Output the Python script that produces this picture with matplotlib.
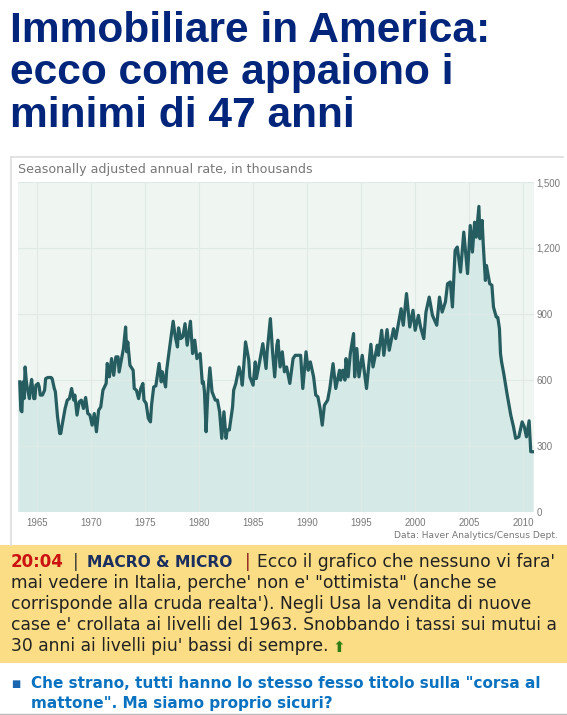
#!/usr/bin/env python3
# -*- coding: utf-8 -*-
import matplotlib
matplotlib.use("Agg")
import matplotlib.pyplot as plt
from matplotlib.patches import Rectangle
from matplotlib.lines import Line2D

# ===============================
# DATA
# ===============================
years_60s = [1963.4, 1963.5, 1963.6, 1963.7, 1963.8, 1963.9, 1964.0, 1964.1, 1964.3, 1964.4, 1964.5, 1964.7,
             1964.8, 1964.9, 1965.1, 1965.2, 1965.3, 1965.5, 1965.7, 1965.8, 1966.0, 1966.3, 1966.4, 1966.6,
             1966.7, 1966.9, 1967.1, 1967.2, 1967.3, 1967.6, 1967.8, 1968.0, 1968.2, 1968.4, 1968.5, 1968.7,
             1968.9, 1969.1, 1969.3, 1969.5, 1969.7, 1969.9]
sales_60s = [590, 461, 454, 590, 514, 658, 598, 560, 514, 568, 601, 514,
             514, 575, 583, 568, 530, 530, 552, 605, 610, 610, 605, 560,
             545, 431, 355, 355, 386, 469, 507, 514, 560, 507, 530, 439,
             499, 507, 469, 519, 446, 439]

years_70s = [1970.1, 1970.3, 1970.5, 1970.7, 1970.9, 1971.1, 1971.4, 1971.5, 1971.7, 1971.9, 1972.1, 1972.3,
             1972.5, 1972.6, 1972.8, 1973.0, 1973.2, 1973.3, 1973.4, 1973.6, 1973.9, 1974.0, 1974.2, 1974.4,
             1974.6, 1974.8, 1974.9, 1975.1, 1975.3, 1975.5, 1975.6, 1975.8, 1976.0, 1976.3, 1976.5, 1976.6,
             1976.9, 1977.0, 1977.2, 1977.6, 1977.8, 1978.0, 1978.1, 1978.3, 1978.5, 1978.7, 1978.9, 1979.2,
             1979.4, 1979.6, 1979.8]
sales_70s = [393, 446, 363, 461, 476, 552, 583, 674, 613, 696, 620, 704,
             704, 635, 689, 742, 840, 727, 772, 666, 643, 560, 552, 514,
             560, 583, 507, 492, 424, 408, 484, 567, 572, 674, 590, 636,
             567, 643, 719, 866, 795, 749, 836, 787, 795, 855, 757, 866,
             719, 780, 696]

years_80s = [1980.1, 1980.3, 1980.4, 1980.5, 1980.65, 1980.8, 1981.0, 1981.2, 1981.5, 1981.7, 1981.9, 1982.1,
             1982.3, 1982.5, 1982.6, 1982.8, 1983.1, 1983.2, 1983.4, 1983.7, 1983.9, 1984.0, 1984.3, 1984.6,
             1984.7, 1985.0, 1985.2, 1985.3, 1985.6, 1985.9, 1986.2, 1986.3, 1986.6, 1986.8, 1987.0, 1987.2,
             1987.3, 1987.5, 1987.7, 1987.9, 1988.1, 1988.4, 1988.7, 1988.9, 1989.2, 1989.4, 1989.6, 1989.9]
sales_80s = [719, 583, 590, 545, 363, 530, 654, 545, 507, 507, 454, 333,
             454, 333, 371, 371, 476, 552, 583, 658, 613, 575, 772, 689,
             613, 575, 681, 605, 681, 764, 651, 727, 878, 727, 613, 757,
             780, 658, 727, 636, 658, 583, 696, 711, 711, 711, 560, 727]

years_90s = [1990.1, 1990.3, 1990.6, 1990.8, 1991.0, 1991.2, 1991.4, 1991.6, 1991.9, 1992.1, 1992.4, 1992.65,
             1993.0, 1993.1, 1993.3, 1993.5, 1993.6, 1993.8, 1994.0, 1994.3, 1994.4, 1994.6, 1994.8, 1995.1,
             1995.5, 1995.9, 1996.1, 1996.5, 1996.6, 1996.9, 1997.1, 1997.4, 1997.6, 1998.0, 1998.2, 1998.5,
             1998.7, 1998.9, 1999.2, 1999.5, 1999.8]
sales_90s = [643, 681, 613, 530, 522, 469, 393, 484, 507, 560, 673, 560,
             643, 598, 643, 598, 696, 613, 719, 810, 613, 742, 613, 711,
             560, 761, 658, 757, 711, 825, 711, 828, 734, 832, 787, 870,
             923, 848, 992, 840, 916]

years_00s = [2000.0, 2000.3, 2000.5, 2000.8, 2001.0, 2001.3, 2001.6, 2002.0, 2002.25, 2002.5, 2002.8, 2003.0,
             2003.25, 2003.45, 2003.7, 2003.9, 2004.2, 2004.5, 2004.6, 2004.85, 2005.1, 2005.3, 2005.5, 2005.65,
             2005.9, 2006.0, 2006.2, 2006.3, 2006.5, 2006.6, 2006.9, 2007.1, 2007.25, 2007.5, 2007.65, 2007.8,
             2007.9, 2008.0, 2008.2, 2008.5, 2008.85, 2009.1, 2009.3, 2009.6, 2009.9, 2010.1, 2010.3, 2010.55,
             2010.7, 2010.9]
sales_00s = [825, 893, 840, 787, 908, 976, 893, 848, 976, 908, 954, 1037,
             1045, 931, 1189, 1204, 1090, 1272, 1219, 1083, 1302, 1181, 1317, 1249,
             1389, 1242, 1325, 1219, 1052, 1120, 1037, 1030, 931, 886, 883, 833,
             719, 681, 628, 537, 439, 386, 333, 340, 408, 386, 340, 413,
             272, 272]

x_ticks = [1965, 1970, 1975, 1980, 1985, 1990, 1995, 2000, 2005, 2010]
y_ticks = [0, 300, 600, 900, 1200, 1500]
y_labels = ["0", "300", "600", "900", "1,200", "1,500"]

title_lines = ["Immobiliare in America:", "ecco come appaiono i", "minimi di 47 anni"]
body_lines = ["mai vedere in Italia, perche' non e' \"ottimista\" (anche se",
              "corrisponde alla cruda realta'). Negli Usa la vendita di nuove",
              "case e' crollata ai livelli del 1963. Snobbando i tassi sui mutui a",
              "30 anni ai livelli piu' bassi di sempre."]
link_lines = ["Che strano, tutti hanno lo stesso fesso titolo sulla \"corsa al",
              "mattone\". Ma siamo proprio sicuri?"]

# ===============================
# FIGURE
# ===============================
W, H = 567, 715
LINE_COLOR = "#265d60"
FILL_COLOR = "#d5e9e6"
BG_COLOR = "#eff5f1"
GRID_COLOR = "#dfeae7"
TICK_COLOR = "#777777"
YELLOW = "#fbdd85"

fig = plt.figure(figsize=(W / 100, H / 100), dpi=100, facecolor="white")


def ftext(x, y, s, **kw):
    # pixel position, measured from the top left of the page
    kw.setdefault("va", "baseline")
    return fig.text(x / W, 1 - y / H, s, **kw)


# page frame of the chart and the yellow box
fig.add_artist(Line2D([11 / W, 563 / W], [1 - 157 / H] * 2, color="#dddddd", lw=1.2))
fig.add_artist(Line2D([11 / W, 11 / W], [1 - 157 / H, 1 - 545 / H], color="#dddddd", lw=1.2))
fig.add_artist(Rectangle((0, 1 - 663 / H), 1, 118 / H, transform=fig.transFigure, facecolor=YELLOW, edgecolor="none"))
fig.add_artist(Line2D([0, 1], [1 - 714 / H] * 2, color="#bbbbbb", lw=1.0))

# Chart
ax = fig.add_axes([18 / W, 1 - 511.5 / H, 516 / W, 329.5 / H])
ax.set_facecolor(BG_COLOR)
years = years_60s + years_70s + years_80s + years_90s + years_00s
sales = sales_60s + sales_70s + sales_80s + sales_90s + sales_00s
x_left, x_right = 1963.24, 2011.0
ax.fill_between([x_left] + years, [sales[0]] + sales, 0, color=FILL_COLOR, lw=0, zorder=1)
ax.plot(years, sales, color=LINE_COLOR, lw=2.3, solid_joinstyle="round", zorder=3)
ax.set_xlim(x_left, x_right)
ax.set_ylim(0, 1500)
ax.grid(True, color=GRID_COLOR, lw=0.8, zorder=2)
ax.set_axisbelow(False)
for s in ax.spines.values():
    s.set_visible(False)
ax.set_xticks(x_ticks)
ax.set_yticks(y_ticks)
ax.set_yticklabels(y_labels)
ax.yaxis.tick_right()
ax.tick_params(length=0, labelsize=6.9, labelcolor=TICK_COLOR, labelfontfamily="Liberation Sans")
ax.tick_params(axis="x", pad=5)
ax.tick_params(axis="y", pad=2)

ftext(18, 173, "Seasonally adjusted annual rate, in thousands", fontsize=9.1, color="#777777", family="DejaVu Sans")
ftext(558, 538, "Data: Haver Analytics/Census Dept.", fontsize=6.6, color="#777777", ha="right", family="DejaVu Sans")

# Title
for y, line in zip([42, 84, 127], title_lines):
    ftext(10, y, line, fontsize=30.6, fontweight="bold", color="#00257a", family="Liberation Sans")

# Yellow box text
BODY = 12.35
ftext(11, 567, "20:04", fontsize=12, fontweight="bold", color="#cc1111", family="DejaVu Sans")
ftext(73, 567, "|", fontsize=BODY, color="#333333", family="DejaVu Sans")
ftext(87, 567, "MACRO & MICRO", fontsize=11.2, fontweight="bold", color="#1a2f5f", family="DejaVu Sans")
ftext(245, 567, "|", fontsize=BODY, color="#8b1a1a", family="DejaVu Sans")
ftext(257, 567, "Ecco il grafico che nessuno vi fara'", fontsize=BODY, color="#222222", family="DejaVu Sans")
for y, line in zip([588, 609, 630, 651], body_lines):
    ftext(11, y, line, fontsize=BODY, color="#222222", family="DejaVu Sans")
ftext(332, 652, "\u2b06", fontsize=11, color="#2e7d12", family="DejaVu Sans")

# Link below the box
ftext(11, 687, "\u25a0", fontsize=7, color="#1a66b0", family="DejaVu Sans")
for y, line in zip([688, 708], link_lines):
    ftext(31, y, line, fontsize=10.95, fontweight="bold", color="#0a72c0", family="DejaVu Sans")

fig.savefig("out.png", dpi=100, facecolor="white")
